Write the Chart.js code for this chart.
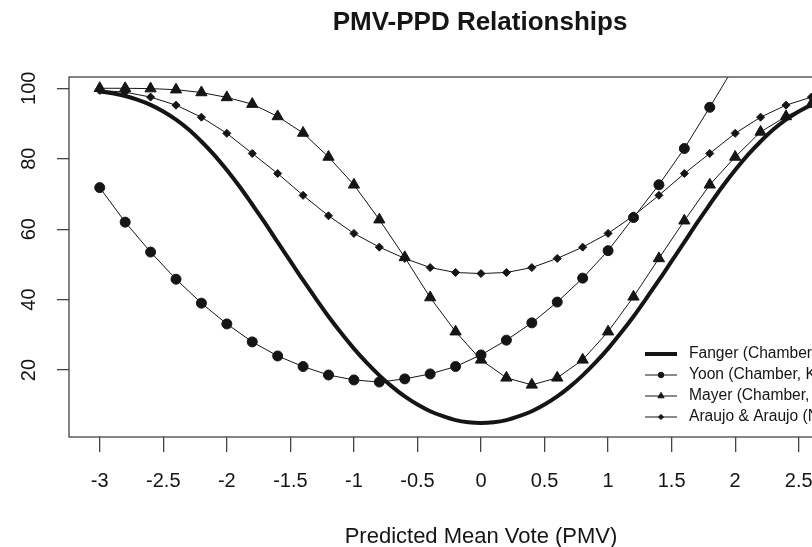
<!DOCTYPE html>
<html>
<head>
<meta charset="utf-8">
<script src="https://cdn.jsdelivr.net/npm/chart.js@4.4.1/dist/chart.umd.min.js"></script>
<style>
  html, body { margin: 0; padding: 0; overflow: hidden; background: #fff; }
  canvas { display: block; }
</style>
</head>
<body>
<canvas id="Chart-1" width="920" height="547"></canvas>
<script>
// PMV steps used by the marked curves
const pmv = [-3, -2.8, -2.6, -2.4, -2.2, -2, -1.8, -1.6, -1.4, -1.2, -1, -0.8, -0.6, -0.4, -0.2,
  0, 0.2, 0.4, 0.6, 0.8, 1, 1.2, 1.4, 1.6, 1.8, 2, 2.2, 2.4, 2.6, 2.8, 3];

// finer steps for the smooth Fanger curve
const pmvFine = [-3, -2.9, -2.8, -2.7, -2.6, -2.5, -2.4, -2.3, -2.2, -2.1, -2, -1.9, -1.8, -1.7, -1.6,
  -1.5, -1.4, -1.3, -1.2, -1.1, -1, -0.9, -0.8, -0.7, -0.6, -0.5, -0.4, -0.3, -0.2, -0.1, 0,
  0.1, 0.2, 0.3, 0.4, 0.5, 0.6, 0.7, 0.8, 0.9, 1, 1.1, 1.2, 1.3, 1.4, 1.5, 1.6, 1.7, 1.8, 1.9,
  2, 2.1, 2.2, 2.3, 2.4, 2.5, 2.6, 2.7, 2.8, 2.9, 3];

const fanger = [99.1, 98.6, 97.8, 96.7, 95.3, 93.4, 91.1, 88.3, 84.9, 81.1, 76.8, 72.1, 67.0, 61.8, 56.3,
  50.9, 45.5, 40.3, 35.2, 30.5, 26.1, 22.1, 18.5, 15.3, 12.5, 10.2, 8.3, 6.9, 5.8, 5.2, 5.0,
  5.2, 5.8, 6.9, 8.3, 10.2, 12.5, 15.3, 18.5, 22.1, 26.1, 30.5, 35.2, 40.3, 45.5, 50.9, 56.3, 61.8, 67.0, 72.1,
  76.8, 81.1, 84.9, 88.3, 91.1, 93.4, 95.3, 96.7, 97.8, 98.6, 99.1];

const yoon = [71.8, 62.0, 53.5, 45.8, 39.0, 33.1, 28.0, 24.0, 21.0, 18.6, 17.2, 16.6, 17.5, 18.9, 21.0,
  24.3, 28.5, 33.4, 39.3, 46.1, 53.9, 63.3, 72.6, 82.9, 94.6, 106.6, null, null, null, null, null];

const mayer = [100, 100, 99.9, 99.6, 98.8, 97.4, 95.5, 92.0, 87.3, 80.5, 72.6, 62.7, 52.0, 40.6, 30.9,
  22.9, 17.8, 15.8, 17.8, 22.9, 30.9, 40.8, 51.7, 62.4, 72.6, 80.5, 87.6, 92.0, 95.5, 97.4, 98.8];

const araujo = [99.4, 98.9, 97.5, 95.2, 91.8, 87.2, 81.5, 75.8, 69.6, 63.8, 58.8, 54.9, 51.7, 49.1, 47.7,
  47.4, 47.7, 49.1, 51.7, 54.9, 58.8, 63.8, 69.6, 75.8, 81.5, 87.2, 91.8, 95.2, 97.5, 98.9, 99.4];

const seriesNames = ['Fanger (Chamber, Denmark)', 'Yoon (Chamber, Korea)',
  'Mayer (Chamber, Germany)', 'Araujo & Araujo (NV, Brazil)'];

const xTicks = [-3, -2.5, -2, -1.5, -1, -0.5, 0, 0.5, 1, 1.5, 2, 2.5, 3];
const yTicks = [20, 40, 60, 80, 100];

const ink = '#151515';
const font = '"Liberation Sans", Arial, sans-serif';

const pairs = (xs, ys) => xs.map((x, i) => ({ x: x, y: ys[i] }));

// box, tick labels, titles and legend in R style
const rStyle = {
  id: 'rStyle',
  afterDraw(chart) {
    const { ctx, chartArea: a, scales: { x, y } } = chart;
    ctx.save();
    ctx.strokeStyle = '#444';
    ctx.lineWidth = 1.3;
    ctx.strokeRect(a.left, a.top, a.right - a.left, a.bottom - a.top);

    ctx.fillStyle = ink;
    ctx.textAlign = 'center';
    ctx.textBaseline = 'middle';
    ctx.font = '20px ' + font;
    xTicks.forEach(v => ctx.fillText(String(v), x.getPixelForValue(v), 481));
    yTicks.forEach(v => {
      ctx.save();
      ctx.translate(29, y.getPixelForValue(v));
      ctx.rotate(-Math.PI / 2);
      ctx.fillText(String(v), 0, 0);
      ctx.restore();
    });

    ctx.font = '22px ' + font;
    ctx.fillText('Predicted Mean Vote (PMV)', x.getPixelForValue(0), 537);
    ctx.font = 'bold 26px ' + font;
    ctx.fillText('PMV-PPD Relationships', 480, 23);

    // legend
    const rows = [354, 375, 396, 417];
    const keyPts = [0, 2.8, 3.6, 2.6];
    ctx.font = '15.6px ' + font;
    ctx.textAlign = 'left';
    chart.data.datasets.forEach((ds, i) => {
      const ly = rows[i];
      ctx.strokeStyle = ink;
      ctx.fillStyle = ink;
      ctx.lineWidth = ds.borderWidth;
      ctx.beginPath();
      ctx.moveTo(645, ly);
      ctx.lineTo(677, ly);
      ctx.stroke();
      if (keyPts[i] > 0) {
        Chart.helpers.drawPoint(ctx, {
          pointStyle: ds.pointStyle, radius: keyPts[i], rotation: 0, borderWidth: 1
        }, 661, ly);
      }
      ctx.fillStyle = ink;
      ctx.fillText(ds.label, 689, ly);
    });
    ctx.restore();
  }
};

const ctx1 = document.getElementById('Chart-1');

new Chart(ctx1, {
  type: 'line',
  data: {
    datasets: [{
      label: seriesNames[0],
      data: pairs(pmvFine, fanger),
      borderColor: ink,
      borderWidth: 4,
      pointRadius: 0,
      pointStyle: 'line',
      cubicInterpolationMode: 'monotone',
    }, {
      label: seriesNames[1],
      data: pairs(pmv, yoon),
      borderColor: ink,
      backgroundColor: ink,
      borderWidth: 1,
      pointStyle: 'circle',
      pointRadius: 5,
      pointBorderWidth: 1,
    }, {
      label: seriesNames[2],
      data: pairs(pmv, mayer),
      borderColor: ink,
      backgroundColor: ink,
      borderWidth: 1,
      pointStyle: 'triangle',
      pointRadius: 6.5,
      pointBorderWidth: 1,
    }, {
      label: seriesNames[3],
      data: pairs(pmv, araujo),
      borderColor: ink,
      backgroundColor: ink,
      borderWidth: 1,
      pointStyle: 'rectRot',
      pointRadius: 4,
      pointBorderWidth: 1,
    }]
  },
  options: {
    responsive: false,
    animation: false,
    layout: { padding: { top: 77, right: 27, left: 0, bottom: 0 } },
    plugins: {
      legend: { display: false },
      title: { display: false },
      tooltip: { enabled: false },
    },
    scales: {
      x: {
        type: 'linear',
        min: -3.242,
        max: 3.242,
        afterBuildTicks: s => { s.ticks = xTicks.map(v => ({ value: v })); },
        afterFit: s => { s.height = 110; },
        ticks: { display: false },
        border: { display: false },
        grid: { drawOnChartArea: false, drawTicks: true, tickLength: 15, color: '#444', lineWidth: 1.3 },
      },
      y: {
        type: 'linear',
        min: 1,
        max: 103.2,
        afterBuildTicks: s => { s.ticks = yTicks.map(v => ({ value: v })); },
        afterFit: s => { s.width = 69; },
        ticks: { display: false },
        border: { display: false },
        grid: { drawOnChartArea: false, drawTicks: true, tickLength: 12, color: '#444', lineWidth: 1.3 },
      }
    }
  },
  plugins: [rStyle]
});
</script>
</body>
</html>
